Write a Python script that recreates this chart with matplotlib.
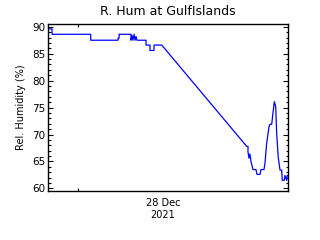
import matplotlib
matplotlib.use("Agg")
import matplotlib.pyplot as plt

# hours relative to 28 Dec 2021 00:00
hours = [-4.24, -3.67, -3.67, 1.79, 1.79, 5.65, 5.65, 5.80, 5.80, 6.07, 6.07,
         7.48, 7.48, 7.62, 7.76, 7.91, 8.05, 8.19, 8.33, 9.60, 9.60, 10.16,
         10.16, 10.31, 10.73, 10.73, 11.82,
         23.82, 24.00, 24.00, 24.14, 24.28, 24.42, 24.71, 25.13, 25.27, 25.69,
         25.84, 26.12, 26.26, 26.40, 26.64, 26.96, 27.11, 27.35, 27.49, 27.72,
         27.91, 28.05, 28.27, 28.52, 28.76, 28.84, 29.12, 29.22, 29.46, 29.54,
         29.65]
rh = [89.6, 89.6, 88.6, 88.6, 87.5, 87.5, 87.9, 87.9, 88.6, 88.6, 88.6,
      88.6, 87.5, 88.4, 87.5, 88.6, 87.5, 88.2, 87.5, 87.5, 86.6, 86.6,
      85.6, 85.6, 85.6, 86.6, 86.6,
      67.8, 67.8, 66.8, 65.6, 66.4, 65.0, 63.5, 63.5, 62.6, 62.6,
      63.5, 63.5, 63.5, 64.7, 68.4, 71.4, 71.9, 71.9, 73.6, 76.1,
      75.2, 70.2, 65.8, 63.4, 63.4, 61.5, 61.5, 62.4, 61.5, 62.4,
      62.4]

title = "R. Hum at GulfIslands"
ylabel = "Rel. Humidity (%)"
day_label = "28 Dec\n2021"
yticks = [60, 65, 70, 75, 80, 85, 90]

fig = plt.figure(figsize=(3.2, 2.4), dpi=100)
ax = fig.add_axes([0.15, 0.206, 0.75, 0.696])
ax.plot(hours, rh, color=(0, 0, 1), lw=0.9)
ax.set_xlim(-4.24, 29.65)
ax.set_ylim(59.6, 90.6)

ax.set_yticks(yticks)
ax.set_yticks(range(60, 91), minor=True)
ax.set_xticks([0])
ax.set_xticklabels([""])
ax.set_xticks([12], minor=True)
ax.set_xticklabels([day_label], minor=True)

ax.tick_params(axis='y', which='major', direction='in', length=3.5, width=0.8,
               left=True, right=True, labelsize=7.5, pad=2)
ax.tick_params(axis='y', which='minor', direction='in', length=1.8, width=0.8,
               left=True, right=True)
ax.tick_params(axis='x', which='major', direction='in', length=2, width=0.8,
               top=True, bottom=True)
ax.tick_params(axis='x', which='minor', length=0, labelsize=7, pad=5)
for lab in ax.get_xticklabels(minor=True):
    lab.set_linespacing(1.3)

for s in ax.spines.values():
    s.set_linewidth(1.0)

ax.set_title(title, fontsize=9, pad=6)
ax.set_ylabel(ylabel, fontsize=7, labelpad=4)

fig.savefig("out.png", dpi=100)
